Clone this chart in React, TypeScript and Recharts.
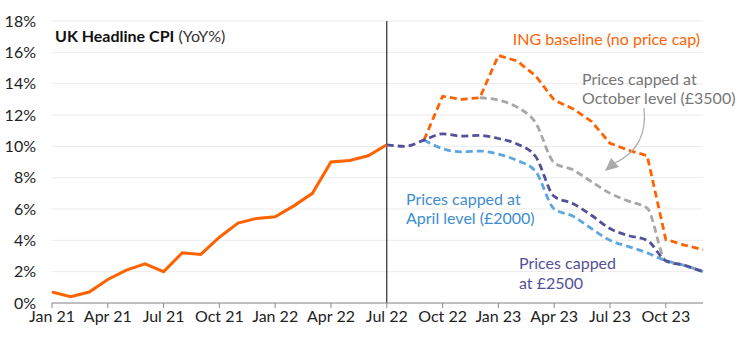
import React from "react";
import {
  CartesianGrid,
  Line,
  LineChart,
  ReferenceLine,
  XAxis,
  YAxis,
} from "recharts";

const MONTHS = [
  "Jan 21", "Feb 21", "Mar 21", "Apr 21", "May 21", "Jun 21", "Jul 21", "Aug 21", "Sep 21", "Oct 21", "Nov 21", "Dec 21",
  "Jan 22", "Feb 22", "Mar 22", "Apr 22", "May 22", "Jun 22", "Jul 22", "Aug 22", "Sep 22", "Oct 22", "Nov 22", "Dec 22",
  "Jan 23", "Feb 23", "Mar 23", "Apr 23", "May 23", "Jun 23", "Jul 23", "Aug 23", "Sep 23", "Oct 23", "Nov 23", "Dec 23",
];

const TICK_LABELS = [
  "Jan 21", "Apr 21", "Jul 21", "Oct 21", "Jan 22", "Apr 22", "Jul 22", "Oct 22", "Jan 23", "Apr 23", "Jul 23", "Oct 23",
];

const Y_TICKS = [0, 2, 4, 6, 8, 10, 12, 14, 16, 18];

// Jan 21 - Jul 22
const ACTUAL = [0.7, 0.4, 0.7, 1.5, 2.1, 2.5, 2.0, 3.2, 3.1, 4.2, 5.1, 5.4, 5.5, 6.2, 7.0, 9.0, 9.1, 9.4, 10.1];
// Jul 22 - Dec 23
const CAP_2500 = [10.1, 10.0, 10.4, 10.8, 10.65, 10.7, 10.5, 10.15, 9.35, 6.8, 6.35, 5.6, 4.75, 4.3, 4.0, 2.7, 2.4, 2.0];
// Sep 22 - Dec 23
const BASELINE = [10.4, 13.2, 13.0, 13.1, 15.8, 15.45, 14.5, 12.95, 12.4, 11.6, 10.2, 9.75, 9.4, 4.05, 3.7, 3.4];
// Sep 22 - Dec 23
const APRIL_CAP = [10.4, 9.85, 9.65, 9.7, 9.5, 9.1, 8.4, 6.0, 5.55, 4.75, 4.0, 3.6, 3.2, 2.7, 2.4, 2.0];
// Dec 22 - Dec 23
const OCT_CAP = [13.1, 12.95, 12.5, 11.5, 8.95, 8.5, 7.75, 7.0, 6.5, 6.05, 2.7, 2.4, 2.0];

const at = (series: number[], startMonth: string, i: number) => {
  const k = i - MONTHS.indexOf(startMonth);
  return k >= 0 && k < series.length ? series[k] : null;
};

const data = MONTHS.map((m, i) => ({
  month: m,
  actual: at(ACTUAL, "Jan 21", i),
  cap2500: at(CAP_2500, "Jul 22", i),
  baseline: at(BASELINE, "Sep 22", i),
  april: at(APRIL_CAP, "Sep 22", i),
  october: at(OCT_CAP, "Dec 22", i),
}));

const ORANGE = "#FF6200";
const GREY = "#A8A8A8";
const PURPLE = "#525199";
const LIGHT_BLUE = "#5DA6E0";
const FONT = "Lato, 'Open Sans', sans-serif";

export default function App() {
  return (
    <div style={{ position: "absolute", left: 0, top: 0, width: 744, height: 339, background: "#fff", fontFamily: FONT }}>
      <LineChart width={744} height={339} data={data} margin={{ top: 21, right: 41, bottom: 0, left: 8 }}>
        <CartesianGrid vertical={false} stroke="#ebebeb" />
        <XAxis
          dataKey="month"
          ticks={TICK_LABELS}
          interval={0}
          height={36}
          stroke="#8a8a8a"
          tickSize={5}
          tickMargin={3}
          tick={{ fill: "#222", fontSize: 16, fontFamily: FONT }}
        />
        <YAxis
          domain={[0, 18]}
          ticks={Y_TICKS}
          width={44}
          axisLine={false}
          tickLine={false}
          tickSize={8}
          tickMargin={8}
          tickFormatter={(v: number) => `${v}%`}
          tick={{ fill: "#222", fontSize: 16, fontFamily: FONT }}
        />
        <ReferenceLine x="Jul 22" stroke="#000" strokeWidth={1} />
        <Line dataKey="april" type="monotone" stroke={LIGHT_BLUE} strokeWidth={2.8} strokeDasharray="7 4" dot={false} isAnimationActive={false} />
        <Line dataKey="october" type="monotone" stroke={GREY} strokeWidth={2.8} strokeDasharray="7 4" dot={false} isAnimationActive={false} />
        <Line dataKey="baseline" type="linear" stroke={ORANGE} strokeWidth={2.8} strokeDasharray="7 4" dot={false} isAnimationActive={false} />
        <Line dataKey="actual" type="linear" stroke={ORANGE} strokeWidth={3} dot={false} isAnimationActive={false} />
        <Line dataKey="cap2500" type="monotone" stroke={PURPLE} strokeWidth={2.8} strokeDasharray="7 4" dot={false} isAnimationActive={false} />
      </LineChart>
      <svg width={744} height={339} style={{ position: "absolute", left: 0, top: 0, pointerEvents: "none" }}>
        <text x={55} y={42} fontSize={16} fill="#111" fontFamily={FONT}>
          <tspan fontWeight={700}>UK Headline CPI</tspan>
          <tspan fill="#333"> (YoY%)</tspan>
        </text>
        <text x={700} y={45} fontSize={16} fill={ORANGE} textAnchor="end" fontFamily={FONT}>
          ING baseline (no price cap)
        </text>
        <text fontSize={16} fill="#777" fontFamily={FONT}>
          <tspan x={582} y={85}>Prices capped at</tspan>
          <tspan x={582} y={104}>October level (£3500)</tspan>
        </text>
        <text fontSize={16} fill="#3D8DD0" fontFamily={FONT}>
          <tspan x={406} y={205}>Prices capped at</tspan>
          <tspan x={406} y={224}>April level (£2000)</tspan>
        </text>
        <text fontSize={16} fill={PURPLE} fontFamily={FONT}>
          <tspan x={519} y={269}>Prices capped</tspan>
          <tspan x={519} y={289}>at £2500</tspan>
        </text>
        <path d="M 644 108 C 647 135, 636 153, 615 163" fill="none" stroke="#aaa" strokeWidth={1.2} />
        <polygon points="605,171 611,158 619,167" fill="#aaa" />
      </svg>
    </div>
  );
}
